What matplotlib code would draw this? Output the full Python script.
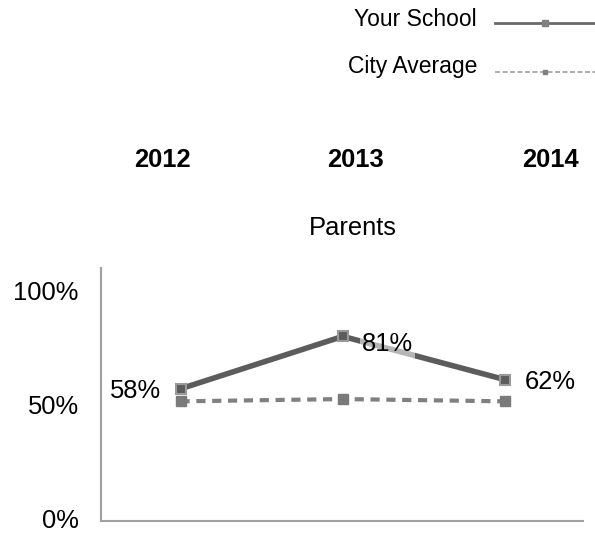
import matplotlib
matplotlib.use("Agg")
import matplotlib.pyplot as plt
from matplotlib.lines import Line2D
from matplotlib.transforms import ScaledTranslation

plt.rcParams['font.family'] = ['Liberation Sans', 'DejaVu Sans']

years = ["2012", "2013", "2014"]
school = [0.58, 0.81, 0.62]
city = [0.525, 0.535, 0.525]
school_labels = ["58%", "81%", "62%"]
yticks = [0, 0.5, 1.0]
ytick_labels = ["0%", "50%", "100%"]
title = "Parents"

W, H = 595, 534
fig = plt.figure(figsize=(W / 100, H / 100), dpi=100)
ax = fig.add_axes([101 / W, 1 - 521 / H, (583 - 101) / W, (521 - 268) / H])

x = list(range(len(years)))
ax.plot(x, city, color="#808080", lw=3, ls=(0, (2.2, 1.6)), marker="s", ms=7,
        mfc="#7a7a7a", mec="#7a7a7a", zorder=2)
ax.plot(x, school, color="#5c5c5c", lw=4, marker="s", ms=7,
        mfc="#5c5c5c", mec="#9a9a9a", mew=1.5, zorder=3)

fs = 18.4
offsets = [(-0.12, "right"), (0.12, "left"), (0.12, "left")]
for i, (lab, (dx, ha)) in enumerate(zip(school_labels, offsets)):
    ax.text(i + dx, school[i] + (-0.01 if i != 1 else -0.035), lab, ha=ha, va="center",
            fontsize=fs, color="black", zorder=4,
            bbox=dict(facecolor="white", alpha=0.55, edgecolor="none", pad=1.5))

ax.set_xlim(-0.49, 2.48)
ax.set_ylim(0, 1.11)
ax.set_yticks(yticks)
ax.set_yticklabels(ytick_labels, fontsize=fs)
ax.tick_params(axis="y", length=0, pad=16)
for lbl in ax.get_yticklabels():
    lbl.set_transform(lbl.get_transform() + ScaledTranslation(0, 3 / 100, fig.dpi_scale_trans))
ax.set_xticks([])
for s in ["top", "right"]:
    ax.spines[s].set_visible(False)
for s in ["left", "bottom"]:
    ax.spines[s].set_color("#a0a0a0")
    ax.spines[s].set_linewidth(1.5)

fig.text(353 / W, 1 - 228 / H, title, ha="center", va="center", fontsize=fs)

year_x = [162, 355, 550]
for yx, yr in zip(year_x, years):
    fig.text(yx / W, 1 - 160 / H, yr, ha="center", va="center", fontsize=fs, fontweight="bold")

# legend
leg_fs = 16.5
fig.text(477 / W, 1 - 20 / H, "Your School", ha="right", va="center", fontsize=leg_fs)
fig.text(477 / W, 1 - 66 / H, "City Average", ha="right", va="center", fontsize=leg_fs)
fig.add_artist(Line2D([495 / W, 595 / W], [1 - 23 / H, 1 - 23 / H], color="#6a6a6a", lw=2,
                      transform=fig.transFigure))
fig.add_artist(Line2D([545 / W], [1 - 23 / H], color="#808080", marker="s", ms=4,
                      transform=fig.transFigure))
fig.add_artist(Line2D([495 / W, 595 / W], [1 - 72 / H, 1 - 72 / H], color="#a0a0a0", lw=1.2,
                      ls=(0, (3, 1.5)), transform=fig.transFigure))
fig.add_artist(Line2D([545 / W], [1 - 72 / H], color="#808080", marker="s", ms=3,
                      transform=fig.transFigure))

fig.savefig("out.png", dpi=100)
